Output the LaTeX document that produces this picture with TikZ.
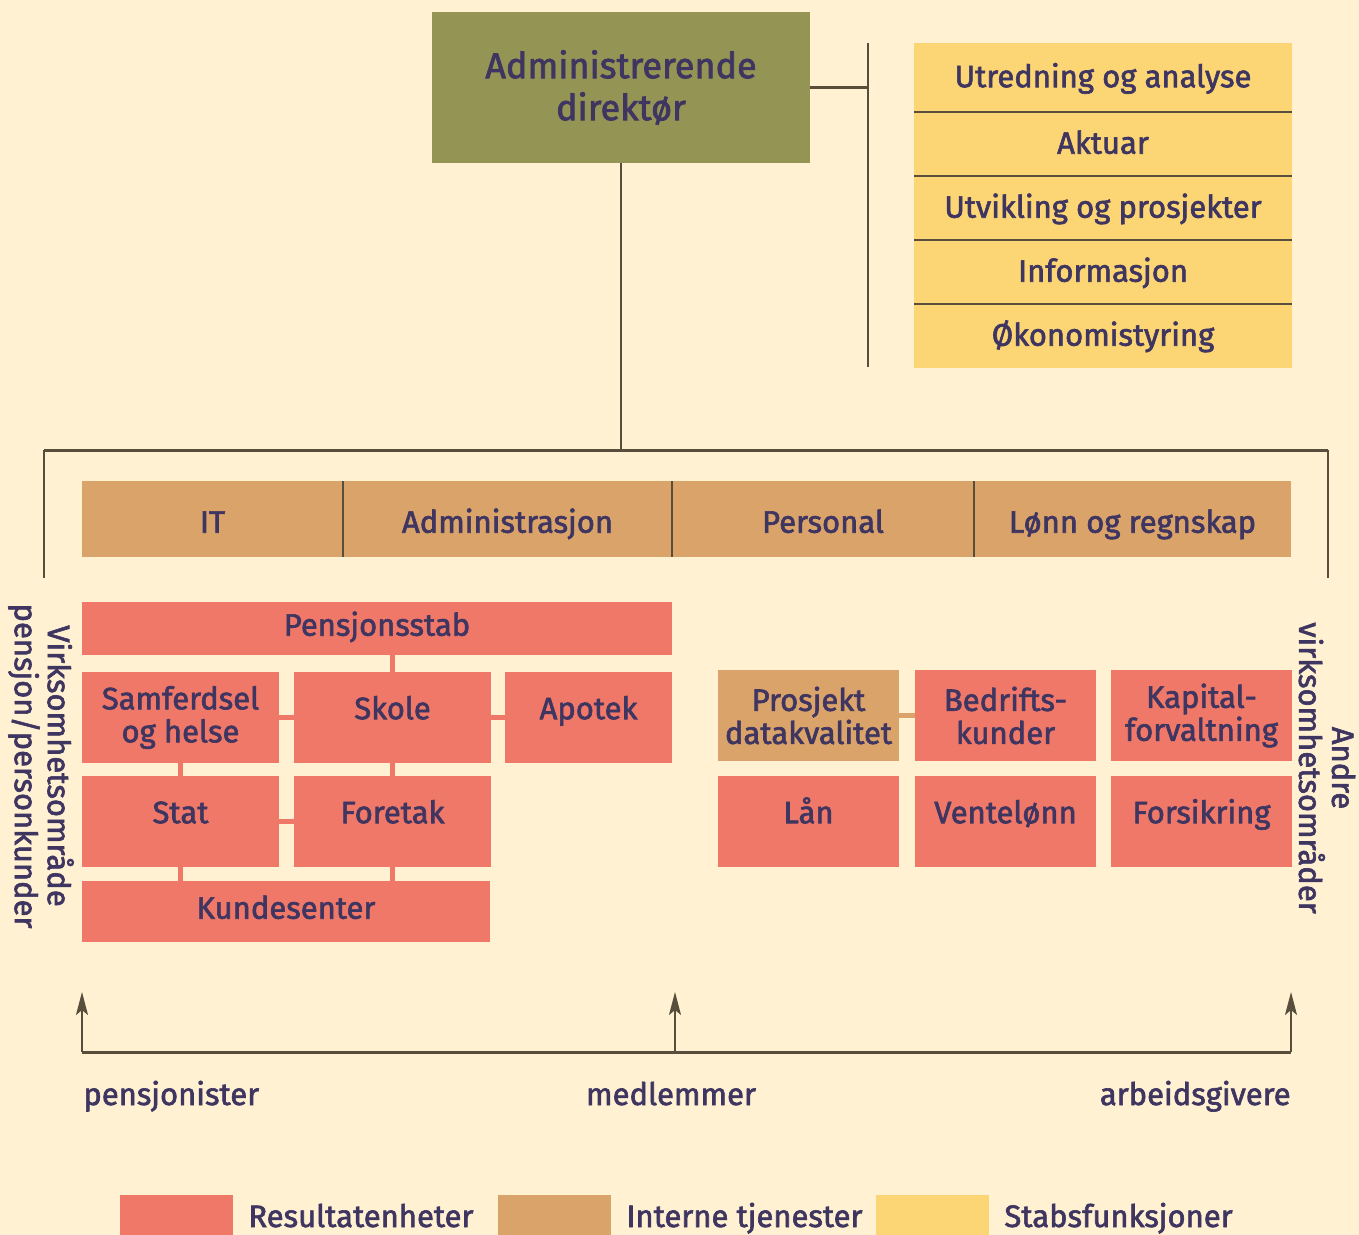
\documentclass[tikz,border=0pt]{standalone}
\usepackage{fontspec}
\setmainfont{Fira Sans}[FakeBold=2]
\usetikzlibrary{arrows.meta}

\definecolor{bakgrunn}{HTML}{FFF1D2}
\definecolor{resrod}{HTML}{EF7868}
\definecolor{interntan}{HTML}{D9A36A}
\definecolor{stabgul}{HTML}{FCD674}
\definecolor{oliven}{HTML}{949455}
\definecolor{blekk}{HTML}{3F3561}
\definecolor{strek}{HTML}{574F3C}

\begin{document}
\begin{tikzpicture}[x=0.5pt, y=-0.5pt,
    every node/.style={text=blekk, font=\fontsize{15.5}{16.5}\selectfont},
    boks/.style={anchor=north west, inner sep=0pt, outer sep=0pt, align=center},
    res/.style={boks, fill=resrod},
    intern/.style={boks, fill=interntan},
    stab/.style={boks, fill=stabgul, minimum width=189pt, minimum height=32pt,
                 text height=11pt, text depth=1.3pt},
    hevet/.style={text height=11pt, text depth=9.3pt},
    linjert/.style={text height=11pt, text depth=3.8pt},
    senket/.style={text height=13.7pt, text depth=0pt},
    linje/.style={draw=strek, line width=1pt},
    kobling/.style={line width=2.5pt}]
  \fill[bakgrunn] (0,0) rectangle (1359,1235);
  \useasboundingbox (0,0) rectangle (1359,1235);

  % ledelse og stab
  \node[boks, fill=oliven, minimum width=189pt, minimum height=75.5pt,
        font=\fontsize{18}{21}\selectfont] (adm) at (432,12) {Administrerende\\direktør};
  \node[stab, minimum height=34.5pt] (utredning) at (914,43) {Utredning og analyse};
  \node[stab] (aktuar) at (914,112) {Aktuar};
  \node[stab] (utvikling) at (914,176) {Utvikling og prosjekter};
  \node[stab] (info) at (914,240) {Informasjon};
  \node[stab] (okonomi) at (914,304) {Økonomistyring};
  \draw[linje] (utredning.south west) -- (utredning.south east);
  \draw[linje] (aktuar.south west) -- (aktuar.south east);
  \draw[linje] (utvikling.south west) -- (utvikling.south east);
  \draw[linje] (info.south west) -- (info.south east);
  \coordinate (stabtopp) at (868,43);
  \coordinate (stabbunn) at (868,367);
  \draw[linje] (stabtopp) -- (stabbunn);
  \draw[linje, line width=1.5pt] (adm.east) -- (adm.east -| stabtopp);

  % klamme
  \coordinate (klv) at (44,578);
  \coordinate (klh) at (1328,578);
  \coordinate (kltopp) at (621,450);
  \draw[linje] (adm.south) -- (kltopp);
  \draw[linje] (klv) -- (klv |- kltopp);
  \draw[linje] (klh) -- (klh |- kltopp);
  \draw[linje, line width=1.5pt] (klv |- kltopp) -- (klh |- kltopp);

  % interne tjenester
  \node[intern, senket, minimum width=130.5pt, minimum height=38pt] (it) at (82,481) {IT};
  \node[intern, senket, minimum width=164.5pt, minimum height=38pt] (adminis) at (343,481) {Administrasjon};
  \node[intern, senket, minimum width=151pt, minimum height=38pt] (personal) at (672,481) {Personal};
  \node[intern, senket, minimum width=158.5pt, minimum height=38pt] (lonn) at (974,481) {Lønn og regnskap};
  \draw[linje] (it.north east) -- (it.south east);
  \draw[linje] (adminis.north east) -- (adminis.south east);
  \draw[linje] (personal.north east) -- (personal.south east);

  % pensjon/personkunder
  \node[res, linjert, minimum width=295pt, minimum height=26.5pt] (pstab) at (82,602) {Pensjonsstab};
  \node[res, minimum width=98.5pt, minimum height=45.5pt] (samf) at (82,672) {Samferdsel\\og helse};
  \node[res, hevet, minimum width=98.5pt, minimum height=45.5pt] (skole) at (294,672) {Skole};
  \node[res, hevet, minimum width=83.5pt, minimum height=45.5pt] (apotek) at (505,672) {Apotek};
  \node[res, hevet, minimum width=98.5pt, minimum height=45.5pt] (stat) at (82,776) {Stat};
  \node[res, hevet, minimum width=98.5pt, minimum height=45.5pt] (foretak) at (294,776) {Foretak};
  \node[res, linjert, minimum width=204pt, minimum height=30.5pt] (kunde) at (82,881) {Kundesenter};
  \draw[resrod, kobling] (skole.north) -- (skole.north |- pstab.south);
  \draw[resrod, kobling] (samf.east) -- (skole.west);
  \draw[resrod, kobling] (skole.east) -- (apotek.west);
  \draw[resrod, kobling] (samf.south) -- (stat.north);
  \draw[resrod, kobling] (skole.south) -- (foretak.north);
  \draw[resrod, kobling] (stat.east) -- (foretak.west);
  \draw[resrod, kobling] (stat.south) -- (stat.south |- kunde.north);
  \draw[resrod, kobling] (foretak.south) -- (foretak.south |- kunde.north);

  % andre virksomhetsomraader
  \node[intern, minimum width=90.5pt, minimum height=45.5pt] (prosjekt) at (718,670) {Prosjekt\\datakvalitet};
  \node[res, minimum width=90.5pt, minimum height=45.5pt] (bedrift) at (915,670) {Bedrifts-\\kunder};
  \node[res, minimum width=90.5pt, minimum height=45.5pt] (kapital) at (1111,670) {Kapital-\\forvaltning};
  \node[res, hevet, minimum width=90.5pt, minimum height=45.5pt] (laan) at (718,776) {Lån};
  \node[res, hevet, minimum width=90.5pt, minimum height=45.5pt] (vente) at (915,776) {Ventelønn};
  \node[res, hevet, minimum width=90.5pt, minimum height=45.5pt] (forsikring) at (1111,776) {Forsikring};
  \draw[interntan, kobling] (prosjekt.east) -- (bedrift.west);

  \node[rotate=-90, align=center, font=\fontsize{15.5}{16.5}\selectfont] (venstre) at (41,766) {Virksomhetsområde\\pensjon/personkunder};
  \node[rotate=-90, align=center, font=\fontsize{15.5}{16.5}\selectfont] (hoyre) at (1327,768) {Andre\\virksomhetsområder};

  % kunder
  \coordinate (pil1) at (82,1052);
  \coordinate (pil2) at (675,1052);
  \coordinate (pil3) at (1291,1052);
  \coordinate (pil1t) at (82,992);
  \coordinate (pil2t) at (675,992);
  \coordinate (pil3t) at (1291,992);
  \draw[linje, line width=1.5pt] (pil1) -- (pil3);
  \draw[linje, -{Stealth[length=11.5pt, width=6pt, inset=2.5pt]}] (pil1) -- (pil1t);
  \draw[linje, -{Stealth[length=11.5pt, width=6pt, inset=2.5pt]}] (pil2) -- (pil2t);
  \draw[linje, -{Stealth[length=11.5pt, width=6pt, inset=2.5pt]}] (pil3) -- (pil3t);
  \node[anchor=base west, inner sep=0pt] (pensjonister) at (83,1105) {pensjonister};
  \node[anchor=base, inner sep=0pt] (medlemmer) at (671,1105) {medlemmer};
  \node[anchor=base east, inner sep=0pt] (arbeidsgivere) at (1291,1105) {arbeidsgivere};

  % forklaring
  \node[res, minimum width=56.5pt, minimum height=20pt] (fres) at (120,1195) {};
  \node[intern, minimum width=56.5pt, minimum height=20pt] (fint) at (498,1195) {};
  \node[boks, fill=stabgul, minimum width=56.5pt, minimum height=20pt] (fstab) at (876,1195) {};
  \node[anchor=base west, inner sep=0pt] (fresT) at (248,1227) {Resultatenheter};
  \node[anchor=base west, inner sep=0pt] (fintT) at (626,1227) {Interne tjenester};
  \node[anchor=base west, inner sep=0pt] (fstabT) at (1004,1227) {Stabsfunksjoner};
\end{tikzpicture}
\end{document}
